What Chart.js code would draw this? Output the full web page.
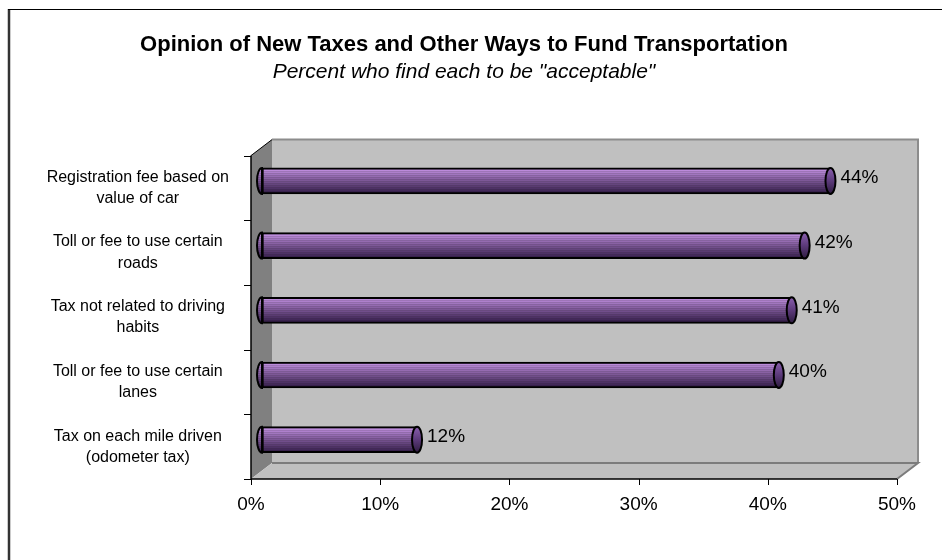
<!DOCTYPE html>
<html>
<head>
<meta charset="utf-8">
<script src="https://cdn.jsdelivr.net/npm/chart.js@4/dist/chart.umd.min.js"></script>
<style>
  html, body { margin: 0; padding: 0; background: #ffffff; }
</style>
</head>
<body>
<canvas id="barChart" width="942" height="560"></canvas>
<script>
const categories = [
    ["Registration fee based on", "value of car"],
    ["Toll or fee to use certain", "roads"],
    ["Tax not related to driving", "habits"],
    ["Toll or fee to use certain", "lanes"],
    ["Tax on each mile driven", "(odometer tax)"]
]
const acceptable = [44, 42, 41, 40, 12]
const axisMax = 50
const tickStep = 10

// depth of the fake 3d box, relative to the plot area
const back = { dx: 10, dy: -9 }
const front = { dx: -11, dy: 7 }
const barHeight = 26

Chart.defaults.font.family = "Arial, 'Liberation Sans', sans-serif"
Chart.defaults.color = "#000000"

function lerp(a, b, t) {
    return Math.round(a + (b - a) * t)
}

// striped purple tube look
function tubeFill(c) {
    const chart = c.chart
    if (!chart.chartArea || !chart.scales.y) return "#8a62a8"
    const y = chart.scales.y.getPixelForValue(c.dataIndex)
    const top = y - barHeight / 2
    const g = chart.ctx.createLinearGradient(0, top, 0, top + barHeight)
    const light = [204, 152, 236]
    const dark = [56, 32, 78]
    const n = 13
    for (let i = 0; i < n; i++) {
        const t = i / (n - 1)
        const k = Math.pow(t, 0.9)
        const r = lerp(light[0], dark[0], k)
        const gg = lerp(light[1], dark[1], k)
        const b = lerp(light[2], dark[2], k)
        const a = "rgb(" + r + "," + gg + "," + b + ")"
        const d = "rgb(" + lerp(r, 0, 0.16) + "," + lerp(gg, 0, 0.16) + "," + lerp(b, 0, 0.16) + ")"
        g.addColorStop(i / n, a)
        g.addColorStop((i + 0.5) / n, a)
        g.addColorStop((i + 0.5) / n, d)
        g.addColorStop((i + 1) / n, d)
    }
    return g
}

const boxPlugin = {
    id: "box3d",
    beforeDatasetsDraw(chart) {
        const { ctx, chartArea: a, scales } = chart
        const bl = a.left + back.dx, br = a.right + back.dx
        const bt = a.top + back.dy, bb = a.bottom + back.dy
        const fl = a.left + front.dx, fr = a.right + front.dx
        const ft = a.top + front.dy, fb = a.bottom + front.dy
        ctx.save()
        // back wall
        ctx.fillStyle = "#c0c0c0"
        ctx.fillRect(bl, bt, br - bl, bb - bt)
        ctx.strokeStyle = "#8c8c8c"
        ctx.lineWidth = 2
        ctx.beginPath()
        ctx.moveTo(bl, bt)
        ctx.lineTo(br, bt)
        ctx.lineTo(br, bb)
        ctx.stroke()
        // left wall
        ctx.fillStyle = "#808080"
        ctx.beginPath()
        ctx.moveTo(fl, ft)
        ctx.lineTo(bl, bt)
        ctx.lineTo(bl, bb)
        ctx.lineTo(fl, fb)
        ctx.closePath()
        ctx.fill()
        // floor
        ctx.fillStyle = "#c0c0c0"
        ctx.beginPath()
        ctx.moveTo(fl, fb)
        ctx.lineTo(bl, bb)
        ctx.lineTo(br, bb)
        ctx.lineTo(fr, fb)
        ctx.closePath()
        ctx.fill()
        ctx.strokeStyle = "#7c7c7c"
        ctx.lineWidth = 2
        ctx.beginPath()
        ctx.moveTo(bl, bb)
        ctx.lineTo(br, bb)
        ctx.lineTo(fr, fb)
        ctx.stroke()
        // front axis lines
        ctx.strokeStyle = "#000000"
        ctx.lineWidth = 1.5
        ctx.beginPath()
        ctx.moveTo(fl, ft)
        ctx.lineTo(fl, fb)
        ctx.lineTo(fr, fb)
        ctx.stroke()
        ctx.lineWidth = 1
        ctx.beginPath()
        ctx.moveTo(fl, ft)
        ctx.lineTo(bl, bt)
        ctx.stroke()
        // category tick marks
        const step = (a.bottom - a.top) / categories.length
        for (let i = 0; i <= categories.length; i++) {
            const y = Math.round(a.top + i * step + front.dy) + 0.5
            ctx.beginPath()
            ctx.moveTo(fl - 7, y)
            ctx.lineTo(fl, y)
            ctx.stroke()
        }
        // value tick marks
        for (let v = 0; v <= axisMax; v += tickStep) {
            const x = Math.round(scales.x.getPixelForValue(v) + front.dx) + 0.5
            ctx.beginPath()
            ctx.moveTo(x, fb)
            ctx.lineTo(x, fb + 6)
            ctx.stroke()
        }
        ctx.restore()
    },
    afterDatasetsDraw(chart) {
        const { ctx } = chart
        const meta = chart.getDatasetMeta(0)
        ctx.save()
        meta.data.forEach((bar, i) => {
            const h = bar.height / 2
            // rounded left end of the tube
            ctx.beginPath()
            ctx.ellipse(bar.base, bar.y, 5, h, 0, Math.PI / 2, Math.PI * 1.5)
            ctx.closePath()
            ctx.fillStyle = bar.options.backgroundColor
            ctx.fill()
            ctx.lineWidth = 2
            ctx.strokeStyle = "#000000"
            ctx.stroke()
            // end cap
            const g = ctx.createLinearGradient(0, bar.y - h, 0, bar.y + h)
            g.addColorStop(0, "#8a5fae")
            g.addColorStop(0.5, "#5c3a7a")
            g.addColorStop(1, "#2e1c40")
            ctx.beginPath()
            ctx.ellipse(bar.x, bar.y, 5, h, 0, 0, Math.PI * 2)
            ctx.fillStyle = g
            ctx.fill()
            ctx.stroke()
            // value label
            ctx.fillStyle = "#000000"
            ctx.font = "19px Arial, 'Liberation Sans', sans-serif"
            ctx.textAlign = "left"
            ctx.textBaseline = "middle"
            ctx.fillText(acceptable[i] + "%", bar.x + 10, bar.y - 3)
        })
        ctx.restore()
    },
    afterDraw(chart) {
        const { ctx } = chart
        ctx.save()
        ctx.strokeStyle = "#333333"
        ctx.lineWidth = 2.5
        ctx.beginPath()
        ctx.moveTo(9, 9)
        ctx.lineTo(9, chart.height)
        ctx.stroke()
        ctx.strokeStyle = "#000000"
        ctx.lineWidth = 1
        ctx.beginPath()
        ctx.moveTo(8, 9.5)
        ctx.lineTo(chart.width, 9.5)
        ctx.stroke()
        ctx.restore()
    }
}

const barChart = document.getElementById("barChart")

new Chart(barChart, {
    type: "bar",
    data: {
        labels: categories,
        datasets: [
            {
                label: "Acceptable",
                data: acceptable,
                backgroundColor: tubeFill,
                borderColor: "#000000",
                borderWidth: 2,
                borderSkipped: false,
                barThickness: barHeight
            }
        ]
    },
    plugins: [boxPlugin],
    options: {
        indexAxis: "y",
        responsive: false,
        animation: false,
        layout: {
            padding: { left: 20, right: 34, top: 0, bottom: 0 }
        },
        plugins: {
            legend: { display: false },
            tooltip: { enabled: false },
            title: {
                display: true,
                text: "Opinion of New Taxes and Other Ways to Fund Transportation",
                font: { size: 22, weight: "bold" },
                padding: { top: 32, bottom: 0 }
            },
            subtitle: {
                display: true,
                text: "Percent who find each to be \"acceptable\"",
                font: { size: 21, style: "italic" },
                padding: { top: 1, bottom: 64 }
            }
        },
        scales: {
            x: {
                min: 0,
                max: axisMax,
                grid: { display: false, drawTicks: false },
                border: { display: false },
                ticks: {
                    stepSize: tickStep,
                    font: { size: 19 },
                    padding: 21,
                    labelOffset: front.dx,
                    maxRotation: 0,
                    callback: (v) => v + "%"
                },
                afterFit: (scale) => {
                    scale.height = 88
                    scale.paddingLeft = 0
                    scale.paddingRight = 0
                }
            },
            y: {
                grid: { display: false, drawTicks: false },
                border: { display: false },
                ticks: {
                    font: { size: 16, lineHeight: 1.32 },
                    crossAlign: "center",
                    padding: 33,
                    labelOffset: front.dy
                },
                afterFit: (scale) => { scale.width = 242 }
            }
        }
    }
})
</script>
</body>
</html>
